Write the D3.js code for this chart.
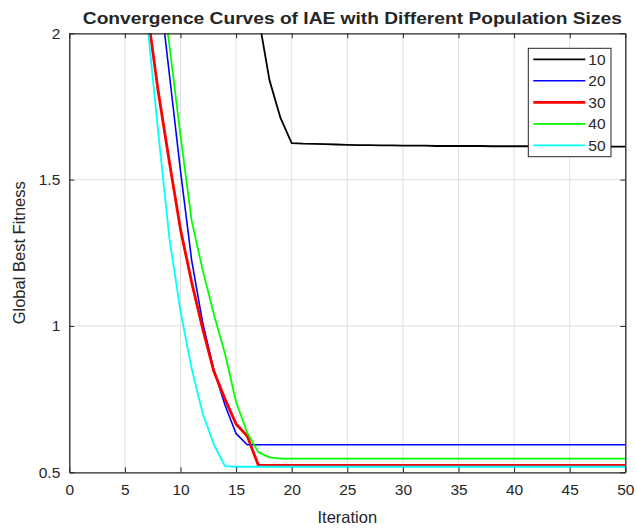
<!DOCTYPE html>
<html>
<head>
<meta charset="utf-8">
<script src="https://cdn.jsdelivr.net/npm/d3@7"></script>
<style>
  body { margin: 0; background: #fff; }
  text { font-family: "Liberation Sans", Arial, sans-serif; fill: #262626; }
</style>
</head>
<body>
<script>
const width  = 637,
      height = 528,
      margin = { top: 33.3, right: 11.7, bottom: 55.7, left: 69.3 };

// iteration index 1..50
const iterations = d3.range(1, 51);

// global best fitness per iteration (null = off the top of the chart, not drawn)
const pop10 = [null, null, null, null, null, null, null, null, null, null,
  null, null, null, null, null, 2.45, 2.06, 1.84, 1.71, 1.625,
  1.623, 1.622, 1.621, 1.620, 1.619, 1.618, 1.618, 1.617, 1.617, 1.616,
  1.616, 1.616, 1.615, 1.615, 1.615, 1.615, 1.615, 1.614, 1.614, 1.614,
  1.614, 1.614, 1.614, 1.614, 1.613, 1.613, 1.613, 1.613, 1.613, 1.613];
const pop20 = [null, null, null, null, null, null, null, 2.19, 1.86, 1.53,
  1.225, 1.01, 0.85, 0.73, 0.632, 0.594, 0.594, 0.594, 0.594, 0.594,
  0.594, 0.594, 0.594, 0.594, 0.594, 0.594, 0.594, 0.594, 0.594, 0.594,
  0.594, 0.594, 0.594, 0.594, 0.594, 0.594, 0.594, 0.594, 0.594, 0.594,
  0.594, 0.594, 0.594, 0.594, 0.594, 0.594, 0.594, 0.594, 0.594, 0.594];
const pop30 = [null, null, null, null, null, null, 2.08, 1.80, 1.56, 1.33,
  1.15, 0.99, 0.845, 0.75, 0.665, 0.624, 0.524, 0.524, 0.524, 0.524,
  0.524, 0.524, 0.524, 0.524, 0.524, 0.524, 0.524, 0.524, 0.524, 0.524,
  0.524, 0.524, 0.524, 0.524, 0.524, 0.524, 0.524, 0.524, 0.524, 0.524,
  0.524, 0.524, 0.524, 0.524, 0.524, 0.524, 0.524, 0.524, 0.524, 0.524];
const pop40 = [null, null, null, null, null, null, null, 2.25, 1.96, 1.65,
  1.36, 1.19, 1.04, 0.905, 0.74, 0.635, 0.569, 0.551, 0.547, 0.547,
  0.547, 0.547, 0.547, 0.547, 0.547, 0.547, 0.547, 0.547, 0.547, 0.547,
  0.547, 0.547, 0.547, 0.547, 0.547, 0.547, 0.547, 0.547, 0.547, 0.547,
  0.547, 0.547, 0.547, 0.547, 0.547, 0.547, 0.547, 0.547, 0.547, 0.547];
const pop50 = [null, null, null, null, null, null, 2.04, 1.66, 1.30, 1.05,
  0.855, 0.70, 0.595, 0.521, 0.519, 0.519, 0.519, 0.519, 0.519, 0.519,
  0.519, 0.519, 0.519, 0.519, 0.519, 0.519, 0.519, 0.519, 0.519, 0.519,
  0.519, 0.519, 0.519, 0.519, 0.519, 0.519, 0.519, 0.519, 0.519, 0.519,
  0.519, 0.519, 0.519, 0.519, 0.519, 0.519, 0.519, 0.519, 0.519, 0.519];

const seriesNames  = ['10', '20', '30', '40', '50'];
const seriesValues = [pop10, pop20, pop30, pop40, pop50];
const seriesColors = ['#000000', '#0000ff', '#ff0000', '#00ff00', '#00ffff'];
const seriesWidths = [1.8, 1.6, 2.8, 1.8, 1.8];

const xTicks = d3.range(0, 51, 5);
const yTicks = [0.5, 1, 1.5, 2];

const iw = width - margin.left - margin.right,
      ih = height - margin.top - margin.bottom;

const x = d3.scaleLinear().domain([0, 50]).range([0, iw]);
const y = d3.scaleLinear().domain([0.5, 2]).range([ih, 0]);

const svg = d3.select('body').append('svg')
  .attr('width', width)
  .attr('height', height);

const g = svg.append('g')
  .attr('transform', `translate(${margin.left},${margin.top})`);

g.append('defs').append('clipPath').attr('id', 'plot')
  .append('rect').attr('width', iw).attr('height', ih);

// grid
g.append('g').selectAll('line').data(xTicks.slice(1, -1)).join('line')
  .attr('x1', d => x(d)).attr('x2', d => x(d))
  .attr('y1', 0).attr('y2', ih)
  .attr('stroke', '#dfdfdf').attr('stroke-width', 1);
g.append('g').selectAll('line').data(yTicks.slice(1, -1)).join('line')
  .attr('y1', d => y(d)).attr('y2', d => y(d))
  .attr('x1', 0).attr('x2', iw)
  .attr('stroke', '#dfdfdf').attr('stroke-width', 1);

// curves
const line = d3.line()
  .defined(d => d[1] != null)
  .x(d => x(d[0]))
  .y(d => y(d[1]));

const curves = g.append('g').attr('clip-path', 'url(#plot)');
seriesValues.forEach((vals, i) => {
  curves.append('path')
    .datum(iterations.map((it, j) => [it, vals[j]]))
    .attr('d', line)
    .attr('fill', 'none')
    .attr('stroke', seriesColors[i])
    .attr('stroke-width', seriesWidths[i])
    .attr('stroke-linejoin', 'round');
});

// axes (ticks pointing inward, box round the plot)
const axisColor = '#262626';
const axBottom = g.append('g').attr('transform', `translate(0,${ih})`)
  .call(d3.axisBottom(x).tickValues(xTicks).tickSizeInner(-5).tickSizeOuter(0).tickPadding(12));
const axLeft = g.append('g')
  .call(d3.axisLeft(y).tickValues(yTicks).tickFormat(d3.format('')).tickSizeInner(-5).tickSizeOuter(0).tickPadding(9));
const axTop = g.append('g')
  .call(d3.axisTop(x).tickValues(xTicks).tickSizeInner(-5).tickSizeOuter(0).tickFormat(''));
const axRight = g.append('g').attr('transform', `translate(${iw},0)`)
  .call(d3.axisRight(y).tickValues(yTicks).tickSizeInner(-5).tickSizeOuter(0).tickFormat(''));

[axBottom, axLeft, axTop, axRight].forEach(a => {
  a.select('.domain').attr('stroke', axisColor).attr('stroke-width', 1.3);
  a.selectAll('.tick line').attr('stroke', axisColor);
  a.selectAll('.tick text')
    .attr('fill', axisColor)
    .style('font-family', '"Liberation Sans", Arial, sans-serif')
    .style('font-size', '15.5px');
});

// title and axis labels
svg.append('text')
  .attr('x', margin.left + iw / 2 + 5)
  .attr('y', 24)
  .attr('text-anchor', 'middle')
  .attr('textLength', 539)
  .attr('lengthAdjust', 'spacingAndGlyphs')
  .style('font-size', '16px')
  .style('font-weight', 'bold')
  .text('Convergence Curves of IAE with Different Population Sizes');

svg.append('text')
  .attr('x', margin.left + iw / 2)
  .attr('y', 523)
  .attr('text-anchor', 'middle')
  .style('font-size', '16.5px')
  .text('Iteration');

svg.append('text')
  .attr('transform', `translate(25,${margin.top + ih / 2}) rotate(-90)`)
  .attr('text-anchor', 'middle')
  .style('font-size', '16.5px')
  .text('Global Best Fitness');

// legend
const legend = svg.append('g').attr('transform', 'translate(528.3,48.3)');
legend.append('rect')
  .attr('width', 82.7).attr('height', 108.4)
  .attr('fill', '#fff')
  .attr('stroke', axisColor).attr('stroke-width', 1);

const rowY = d3.scalePoint().domain(seriesNames).range([11, 97]);
const items = legend.selectAll('g.item').data(seriesNames).join('g')
  .attr('class', 'item')
  .attr('transform', d => `translate(0,${rowY(d)})`);
items.append('line')
  .attr('x1', 5).attr('x2', 57)
  .attr('stroke', (d, i) => seriesColors[i])
  .attr('stroke-width', (d, i) => seriesWidths[i]);
items.append('text')
  .attr('x', 60).attr('dy', '0.35em')
  .style('font-size', '15.5px')
  .text(d => d);
</script>
</body>
</html>
